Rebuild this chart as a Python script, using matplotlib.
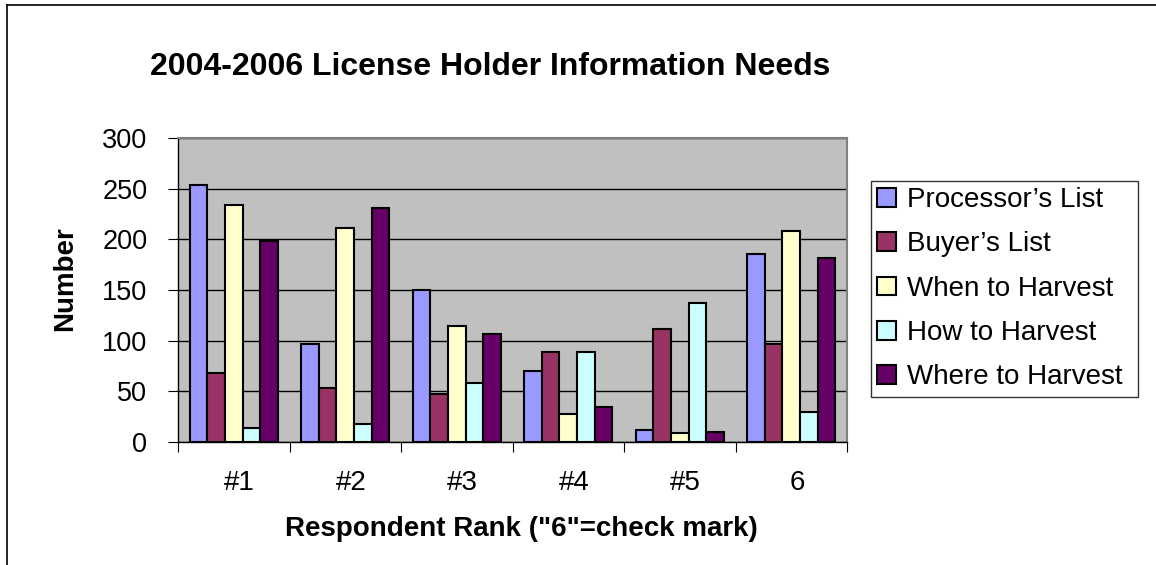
import matplotlib
matplotlib.use('Agg')
import matplotlib.pyplot as plt
import numpy as np
from matplotlib.lines import Line2D
from matplotlib.transforms import ScaledTranslation

plt.rcParams['font.family'] = ['Liberation Sans', 'DejaVu Sans']

# data
categories = ['#1', '#2', '#3', '#4', '#5', '6']
series_names = ["Processor\u2019s List", "Buyer\u2019s List", "When to Harvest",
                "How to Harvest", "Where to Harvest"]
processors = [254, 97, 150, 70, 12, 186]
buyers = [68, 53, 47, 89, 112, 97]
when_harvest = [234, 211, 114, 28, 9, 208]
how_harvest = [14, 18, 58, 89, 137, 30]
where_harvest = [198, 231, 107, 35, 10, 182]
yticks = [0, 50, 100, 150, 200, 250, 300]

colors = ['#9999FF', '#993366', '#FFFFCC', '#CCFFFF', '#660066']
W, H = 1156, 565

fig = plt.figure(figsize=(W / 100, H / 100), dpi=100)
fig.patch.set_facecolor('white')

# chart frame (left and top edges only visible)
fig.add_artist(Line2D([7 / W, 7 / W], [0, 1 - 5 / H], transform=fig.transFigure, color='black', lw=1.2))
fig.add_artist(Line2D([7 / W, 1], [1 - 5 / H, 1 - 5 / H], transform=fig.transFigure, color='black', lw=1.2))

ax = fig.add_axes([178 / W, (H - 442) / H, 669 / W, 304 / H])
ax.set_facecolor('#C0C0C0')

x = np.arange(len(categories))
w = 0.157
all_series = [processors, buyers, when_harvest, how_harvest, where_harvest]
for j, (vals, name, c) in enumerate(zip(all_series, series_names, colors)):
    ax.bar(x + (j - 2) * w, vals, width=w, color=c, edgecolor='black',
           linewidth=1.5, label=name, zorder=3)

ax.set_xlim(-0.5, len(categories) - 0.5)
ax.set_ylim(0, 300)
ax.set_yticks(yticks)
ax.set_yticklabels([str(v) for v in yticks], fontsize=19.5)
ax.yaxis.grid(True, color='black', linewidth=1.0, zorder=1)
ax.set_axisbelow(True)

# x ticks at category boundaries, labels at centers
ax.set_xticks(np.arange(len(categories) + 1) - 0.5)
ax.set_xticklabels([])
ax.set_xticks(x, minor=True)
ax.set_xticklabels(categories, minor=True, fontsize=20)
ax.tick_params(axis='x', which='major', direction='out', length=7, color='black')
ax.tick_params(axis='x', which='minor', length=0, pad=20)
ax.tick_params(axis='y', direction='out', length=7, pad=15)
for lab in ax.xaxis.get_minorticklabels():
    lab.set_transform(lab.get_transform() + ScaledTranslation(0.06, 0, fig.dpi_scale_trans))

for side in ['top', 'right']:
    ax.spines[side].set_color('#808080')
    ax.spines[side].set_linewidth(1.5)
for side in ['left', 'bottom']:
    ax.spines[side].set_color('black')
    ax.spines[side].set_linewidth(1.0)

fig.text(490 / W, 1 - 67 / H, '2004-2006 License Holder Information Needs',
         ha='center', va='center', fontsize=23, fontweight='bold')
fig.text(65 / W, 1 - 279 / H, 'Number', ha='center', va='center',
         rotation=90, fontsize=20, fontweight='bold')
fig.text(521 / W, 1 - 529 / H, 'Respondent Rank ("6"=check mark)',
         ha='center', va='center', fontsize=20, fontweight='bold')

leg = ax.legend(loc='upper left', bbox_to_anchor=(871 / W, 1 - 181 / H, 267 / W, 0),
                bbox_transform=fig.transFigure, mode='expand', fontsize=20,
                frameon=True, fancybox=False, borderaxespad=0, handlelength=0.68,
                handleheight=0.65, handletextpad=0.4, labelspacing=0.66,
                borderpad=0.22)
leg.get_frame().set_edgecolor('black')
leg.get_frame().set_linewidth(1.0)

fig.savefig('out.png', dpi=100, facecolor='white')
